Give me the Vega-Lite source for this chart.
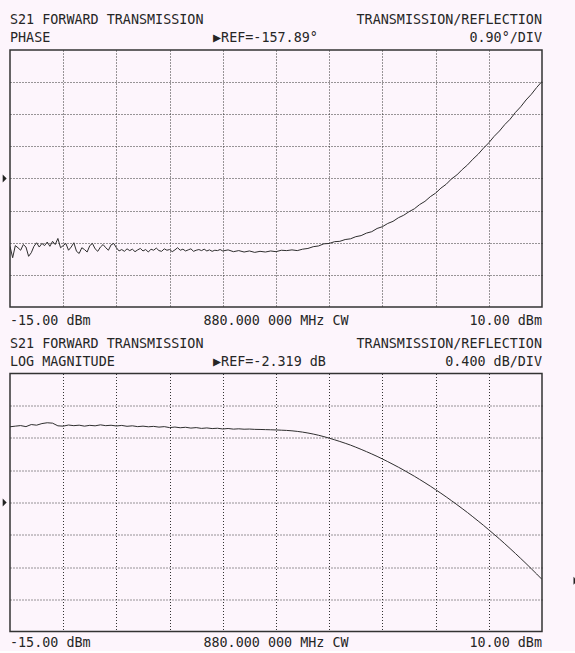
{
  "$schema": "https://vega.github.io/schema/vega-lite/v6.json",
  "background": "#fdf5fc",
  "padding": {"left": 1, "top": 12, "right": 0, "bottom": 0},
  "spacing": 66.5,
  "bounds": "flush",
  "config": {
    "view": {"stroke": "#333333", "strokeWidth": 1.5},
    "text": {"font": "DejaVu Sans Mono", "fontSize": 13.4, "color": "#262626", "baseline": "middle"}
  },
  "datasets": {
    "phase": [
      {"x": -15, "y": -159.79}, {"x": -14.875, "y": -160.11}, {"x": -14.75, "y": -159.77}, {"x": -14.625, "y": -159.83},
      {"x": -14.5, "y": -159.9}, {"x": -14.375, "y": -159.74}, {"x": -14.25, "y": -159.81}, {"x": -14.125, "y": -160.07},
      {"x": -14, "y": -159.97}, {"x": -13.875, "y": -159.79}, {"x": -13.75, "y": -159.69}, {"x": -13.625, "y": -159.81},
      {"x": -13.5, "y": -159.71}, {"x": -13.375, "y": -159.77}, {"x": -13.25, "y": -159.67}, {"x": -13.125, "y": -159.79},
      {"x": -13, "y": -159.65}, {"x": -12.875, "y": -159.74}, {"x": -12.75, "y": -159.57}, {"x": -12.625, "y": -159.83},
      {"x": -12.5, "y": -159.77}, {"x": -12.375, "y": -159.71}, {"x": -12.25, "y": -159.9}, {"x": -12.125, "y": -159.81},
      {"x": -12, "y": -159.69}, {"x": -11.875, "y": -159.93}, {"x": -11.75, "y": -159.99}, {"x": -11.625, "y": -159.83},
      {"x": -11.5, "y": -159.88}, {"x": -11.375, "y": -159.95}, {"x": -11.25, "y": -159.77}, {"x": -11.125, "y": -159.71},
      {"x": -11, "y": -159.86}, {"x": -10.875, "y": -159.93}, {"x": -10.75, "y": -159.81}, {"x": -10.625, "y": -159.74},
      {"x": -10.5, "y": -159.83}, {"x": -10.375, "y": -159.9}, {"x": -10.25, "y": -159.75}, {"x": -10.125, "y": -159.71},
      {"x": -10, "y": -159.83}, {"x": -9.875, "y": -159.92}, {"x": -9.75, "y": -159.88}, {"x": -9.625, "y": -159.93},
      {"x": -9.5, "y": -159.86}, {"x": -9.375, "y": -159.91}, {"x": -9.25, "y": -159.87}, {"x": -9.125, "y": -159.94},
      {"x": -9, "y": -159.89}, {"x": -8.875, "y": -159.85}, {"x": -8.75, "y": -159.92}, {"x": -8.625, "y": -159.88},
      {"x": -8.5, "y": -159.95}, {"x": -8.375, "y": -159.87}, {"x": -8.25, "y": -159.9}, {"x": -8.125, "y": -159.84},
      {"x": -8, "y": -159.91}, {"x": -7.875, "y": -159.93}, {"x": -7.75, "y": -159.86}, {"x": -7.625, "y": -159.9},
      {"x": -7.5, "y": -159.88}, {"x": -7.375, "y": -159.94}, {"x": -7.25, "y": -159.89}, {"x": -7.125, "y": -159.83},
      {"x": -7, "y": -159.9}, {"x": -6.875, "y": -159.87}, {"x": -6.75, "y": -159.92}, {"x": -6.625, "y": -159.89},
      {"x": -6.5, "y": -159.86}, {"x": -6.375, "y": -159.93}, {"x": -6.25, "y": -159.9}, {"x": -6.125, "y": -159.88},
      {"x": -6, "y": -159.91}, {"x": -5.875, "y": -159.87}, {"x": -5.75, "y": -159.92}, {"x": -5.625, "y": -159.89},
      {"x": -5.5, "y": -159.93}, {"x": -5.375, "y": -159.9}, {"x": -5.25, "y": -159.91}, {"x": -5.125, "y": -159.88},
      {"x": -5, "y": -159.92}, {"x": -4.75, "y": -159.89}, {"x": -4.5, "y": -159.94}, {"x": -4.25, "y": -159.91},
      {"x": -4, "y": -159.95}, {"x": -3.75, "y": -159.92}, {"x": -3.5, "y": -159.96}, {"x": -3.25, "y": -159.93},
      {"x": -3, "y": -159.95}, {"x": -2.75, "y": -159.92}, {"x": -2.5, "y": -159.94}, {"x": -2.25, "y": -159.9},
      {"x": -2, "y": -159.91}, {"x": -1.75, "y": -159.89}, {"x": -1.5, "y": -159.91}, {"x": -1.25, "y": -159.87},
      {"x": -1, "y": -159.85}, {"x": -0.75, "y": -159.8}, {"x": -0.5, "y": -159.78}, {"x": -0.25, "y": -159.72},
      {"x": 0, "y": -159.71}, {"x": 0.25, "y": -159.66}, {"x": 0.5, "y": -159.65}, {"x": 0.75, "y": -159.6},
      {"x": 1, "y": -159.58}, {"x": 1.25, "y": -159.52}, {"x": 1.5, "y": -159.49}, {"x": 1.75, "y": -159.42},
      {"x": 2, "y": -159.38}, {"x": 2.25, "y": -159.29}, {"x": 2.5, "y": -159.24}, {"x": 2.75, "y": -159.15},
      {"x": 3, "y": -159.09}, {"x": 3.25, "y": -158.99}, {"x": 3.5, "y": -158.92}, {"x": 3.75, "y": -158.82},
      {"x": 4, "y": -158.74}, {"x": 4.25, "y": -158.62}, {"x": 4.5, "y": -158.53}, {"x": 4.75, "y": -158.4},
      {"x": 5, "y": -158.3}, {"x": 5.25, "y": -158.16}, {"x": 5.5, "y": -158.05}, {"x": 5.75, "y": -157.9},
      {"x": 6, "y": -157.79}, {"x": 6.25, "y": -157.64}, {"x": 6.5, "y": -157.51}, {"x": 6.75, "y": -157.35},
      {"x": 7, "y": -157.21}, {"x": 7.25, "y": -157.04}, {"x": 7.5, "y": -156.89}, {"x": 7.75, "y": -156.71},
      {"x": 8, "y": -156.56}, {"x": 8.25, "y": -156.38}, {"x": 8.5, "y": -156.23}, {"x": 8.75, "y": -156.04},
      {"x": 9, "y": -155.88}, {"x": 9.25, "y": -155.69}, {"x": 9.5, "y": -155.53}, {"x": 9.75, "y": -155.34},
      {"x": 10, "y": -155.17}
    ],
    "mag": [
      {"x": -15, "y": -1.38}, {"x": -14.75, "y": -1.372}, {"x": -14.5, "y": -1.365}, {"x": -14.25, "y": -1.378},
      {"x": -14, "y": -1.352}, {"x": -13.75, "y": -1.36}, {"x": -13.5, "y": -1.34}, {"x": -13.25, "y": -1.33},
      {"x": -13, "y": -1.335}, {"x": -12.75, "y": -1.368}, {"x": -12.5, "y": -1.372}, {"x": -12.25, "y": -1.358},
      {"x": -12, "y": -1.366}, {"x": -11.75, "y": -1.36}, {"x": -11.5, "y": -1.372}, {"x": -11.25, "y": -1.362},
      {"x": -11, "y": -1.368}, {"x": -10.75, "y": -1.356}, {"x": -10.5, "y": -1.366}, {"x": -10.25, "y": -1.361},
      {"x": -10, "y": -1.37}, {"x": -9.75, "y": -1.363}, {"x": -9.5, "y": -1.374}, {"x": -9.25, "y": -1.368},
      {"x": -9, "y": -1.378}, {"x": -8.75, "y": -1.372}, {"x": -8.5, "y": -1.38}, {"x": -8.25, "y": -1.375},
      {"x": -8, "y": -1.384}, {"x": -7.75, "y": -1.378}, {"x": -7.5, "y": -1.39}, {"x": -7.25, "y": -1.383},
      {"x": -7, "y": -1.392}, {"x": -6.75, "y": -1.386}, {"x": -6.5, "y": -1.396}, {"x": -6.25, "y": -1.39},
      {"x": -6, "y": -1.4}, {"x": -5.75, "y": -1.394}, {"x": -5.5, "y": -1.402}, {"x": -5.25, "y": -1.398},
      {"x": -5, "y": -1.407}, {"x": -4.75, "y": -1.401}, {"x": -4.5, "y": -1.409}, {"x": -4.25, "y": -1.405},
      {"x": -4, "y": -1.41}, {"x": -3.75, "y": -1.408}, {"x": -3.5, "y": -1.412}, {"x": -3.25, "y": -1.413},
      {"x": -3, "y": -1.415}, {"x": -2.75, "y": -1.417}, {"x": -2.5, "y": -1.419}, {"x": -2.25, "y": -1.422},
      {"x": -2, "y": -1.425}, {"x": -1.75, "y": -1.43}, {"x": -1.5, "y": -1.437}, {"x": -1.25, "y": -1.446},
      {"x": -1, "y": -1.457}, {"x": -0.75, "y": -1.47}, {"x": -0.5, "y": -1.485}, {"x": -0.25, "y": -1.502},
      {"x": 0, "y": -1.521}, {"x": 0.25, "y": -1.541}, {"x": 0.5, "y": -1.562}, {"x": 0.75, "y": -1.584},
      {"x": 1, "y": -1.607}, {"x": 1.25, "y": -1.633}, {"x": 1.5, "y": -1.66}, {"x": 1.75, "y": -1.688},
      {"x": 2, "y": -1.717}, {"x": 2.25, "y": -1.747}, {"x": 2.5, "y": -1.779}, {"x": 2.75, "y": -1.812},
      {"x": 3, "y": -1.846}, {"x": 3.25, "y": -1.881}, {"x": 3.5, "y": -1.917}, {"x": 3.75, "y": -1.955},
      {"x": 4, "y": -1.993}, {"x": 4.25, "y": -2.033}, {"x": 4.5, "y": -2.074}, {"x": 4.75, "y": -2.116},
      {"x": 5, "y": -2.16}, {"x": 5.25, "y": -2.204}, {"x": 5.5, "y": -2.25}, {"x": 5.75, "y": -2.297},
      {"x": 6, "y": -2.345}, {"x": 6.25, "y": -2.394}, {"x": 6.5, "y": -2.444}, {"x": 6.75, "y": -2.496},
      {"x": 7, "y": -2.549}, {"x": 7.25, "y": -2.602}, {"x": 7.5, "y": -2.658}, {"x": 7.75, "y": -2.714},
      {"x": 8, "y": -2.771}, {"x": 8.25, "y": -2.83}, {"x": 8.5, "y": -2.89}, {"x": 8.75, "y": -2.951},
      {"x": 9, "y": -3.013}, {"x": 9.25, "y": -3.076}, {"x": 9.5, "y": -3.141}, {"x": 9.75, "y": -3.206},
      {"x": 10, "y": -3.273}
    ],
    "topLeft": [
      {"x": -15, "y": -153.45, "label": "S21 FORWARD TRANSMISSION"},
      {"x": -15, "y": -153.96, "label": "PHASE"},
      {"x": -5.46, "y": -153.96, "label": "▶REF=-157.89°"},
      {"x": -15, "y": -161.87, "label": "-15.00 dBm"}
    ],
    "topRight": [
      {"x": 10, "y": -153.45, "label": "TRANSMISSION/REFLECTION"},
      {"x": 10, "y": -153.96, "label": "0.90°/DIV"},
      {"x": 10, "y": -161.87, "label": "10.00 dBm"}
    ],
    "topCenter": [
      {"x": -2.5, "y": -161.87, "label": "880.000 000 MHz CW"}
    ],
    "topMarker": [
      {"x": -15.249, "y": -157.89}
    ],
    "botLeft": [
      {"x": -15, "y": -0.351, "label": "S21 FORWARD TRANSMISSION"},
      {"x": -15, "y": -0.579, "label": "LOG MAGNITUDE"},
      {"x": -5.46, "y": -0.579, "label": "▶REF=-2.319 dB"},
      {"x": -15, "y": -4.065, "label": "-15.00 dBm"}
    ],
    "botRight": [
      {"x": 10, "y": -0.351, "label": "TRANSMISSION/REFLECTION"},
      {"x": 10, "y": -0.579, "label": "0.400 dB/DIV"},
      {"x": 10, "y": -4.065, "label": "10.00 dBm"}
    ],
    "botCenter": [
      {"x": -2.5, "y": -4.065, "label": "880.000 000 MHz CW"}
    ],
    "botMarker": [
      {"x": -15.249, "y": -2.319},
      {"x": 11.574, "y": -3.29}
    ]
  },
  "vconcat": [
    {
      "width": 532,
      "height": 257,
      "encoding": {
        "x": {
          "field": "x", "type": "quantitative",
          "scale": {"domain": [-15, 10], "nice": false, "zero": false},
          "axis": {"values": [-12.5, -10, -7.5, -5, -2.5, 0, 2.5, 5, 7.5], "grid": true, "gridDash": [1, 2], "gridColor": "#333333", "gridWidth": 1, "gridOpacity": 1, "labels": false, "ticks": false, "domain": false, "title": null}
        },
        "y": {
          "field": "y", "type": "quantitative",
          "scale": {"domain": [-161.49, -154.29], "nice": false, "zero": false},
          "axis": {"values": [-160.59, -159.69, -158.79, -157.89, -156.99, -156.09, -155.19], "grid": true, "gridDash": [1, 2], "gridColor": "#333333", "gridWidth": 1, "gridOpacity": 1, "labels": false, "ticks": false, "domain": false, "title": null}
        }
      },
      "layer": [
        {"data": {"name": "phase"}, "mark": {"type": "line", "color": "#2e2e2e", "strokeWidth": 1, "clip": true}, "encoding": {}},
        {"data": {"name": "topLeft"}, "mark": {"type": "text", "align": "left"}, "encoding": {"text": {"field": "label"}}},
        {"data": {"name": "topRight"}, "mark": {"type": "text", "align": "right"}, "encoding": {"text": {"field": "label"}}},
        {"data": {"name": "topCenter"}, "mark": {"type": "text", "align": "center"}, "encoding": {"text": {"field": "label"}}},
        {"data": {"name": "topMarker"}, "mark": {"type": "point", "shape": "M-0.5,-1L0.5,0L-0.5,1Z", "size": 64, "filled": true, "color": "#222222", "opacity": 1}}
      ]
    },
    {
      "width": 532,
      "height": 258,
      "encoding": {
        "x": {
          "field": "x", "type": "quantitative",
          "scale": {"domain": [-15, 10], "nice": false, "zero": false},
          "axis": {"values": [-12.5, -10, -7.5, -5, -2.5, 0, 2.5, 5, 7.5], "grid": true, "gridDash": [1, 2], "gridColor": "#333333", "gridWidth": 1, "gridOpacity": 1, "labels": false, "ticks": false, "domain": false, "title": null}
        },
        "y": {
          "field": "y", "type": "quantitative",
          "scale": {"domain": [-3.919, -0.719], "nice": false, "zero": false},
          "axis": {"values": [-3.519, -3.119, -2.719, -2.319, -1.919, -1.519, -1.119], "grid": true, "gridDash": [1, 2], "gridColor": "#333333", "gridWidth": 1, "gridOpacity": 1, "labels": false, "ticks": false, "domain": false, "title": null}
        }
      },
      "layer": [
        {"data": {"name": "mag"}, "mark": {"type": "line", "color": "#2e2e2e", "strokeWidth": 1, "clip": true}, "encoding": {}},
        {"data": {"name": "botLeft"}, "mark": {"type": "text", "align": "left"}, "encoding": {"text": {"field": "label"}}},
        {"data": {"name": "botRight"}, "mark": {"type": "text", "align": "right"}, "encoding": {"text": {"field": "label"}}},
        {"data": {"name": "botCenter"}, "mark": {"type": "text", "align": "center"}, "encoding": {"text": {"field": "label"}}},
        {"data": {"name": "botMarker"}, "mark": {"type": "point", "shape": "M-0.5,-1L0.5,0L-0.5,1Z", "size": 64, "filled": true, "color": "#222222", "opacity": 1}}
      ]
    }
  ]
}
